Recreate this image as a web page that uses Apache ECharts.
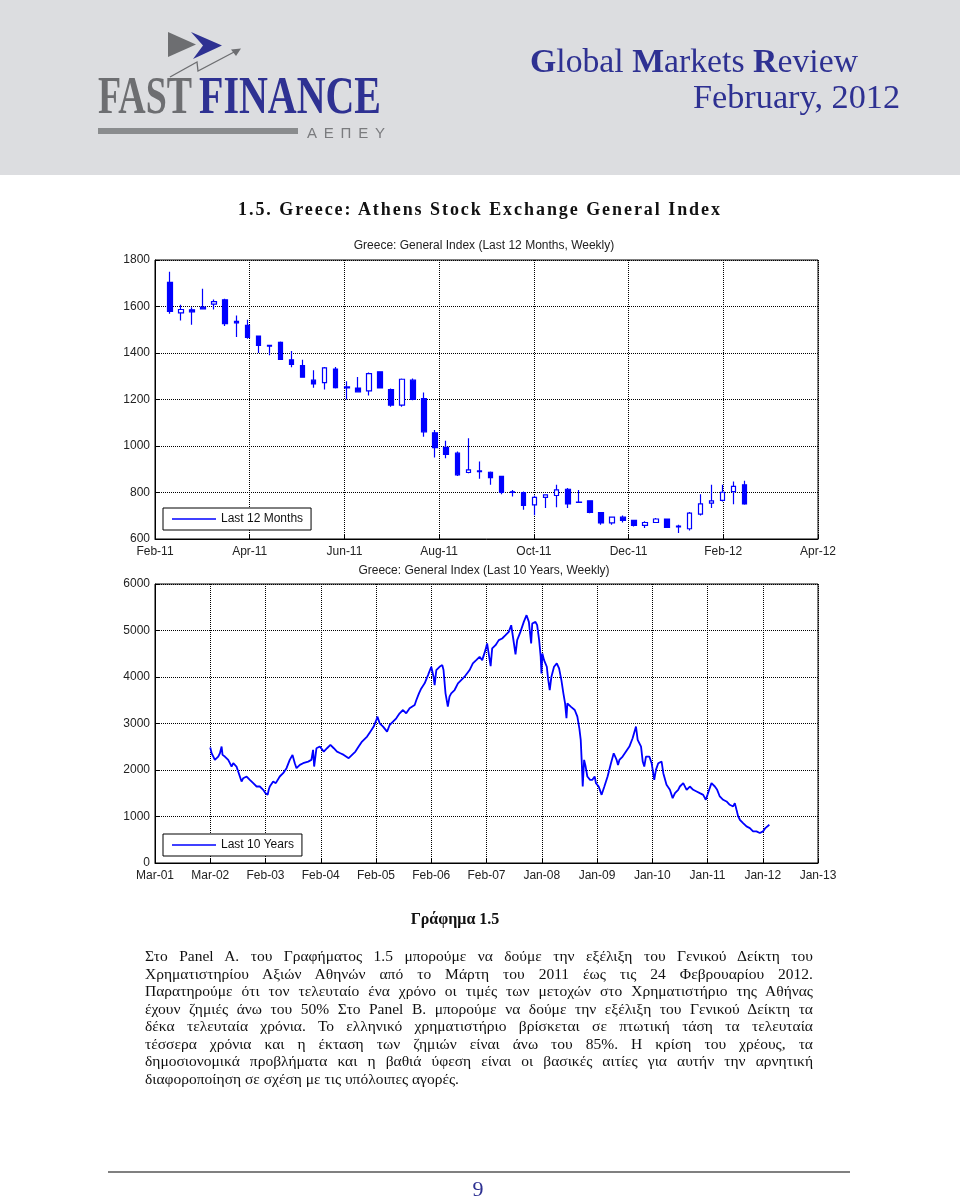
<!DOCTYPE html>
<html>
<head>
<meta charset="utf-8">
<script src="https://cdn.jsdelivr.net/npm/echarts@6/dist/echarts.min.js"></script>
<style>
  html, body { margin:0; padding:0; background:#fff; }
  #page { position:relative; width:960px; height:1199px; overflow:hidden; }
  #chart { position:absolute; left:0; top:0; width:960px; height:1199px; }
  #ov { position:absolute; left:0; top:0; pointer-events:none; }
  .para { position:absolute; left:145px; font-family:"Liberation Serif", serif; font-size:15.5px; color:#111; }
  .ln { position:absolute; left:0; width:668px; white-space:nowrap; text-align:justify; text-align-last:justify; }
  .ln.last { text-align:left; text-align-last:left; }
</style>
</head>
<body>
<div id="page">
  <div id="chart"></div>
  <svg id="ov" width="960" height="1199" xmlns="http://www.w3.org/2000/svg">
    <rect x="0" y="0" width="960" height="175" fill="#dcdde0"/>
    <!-- logo -->
    <polygon points="168,32 196,44.5 168,57" fill="#6d6e71"/>
    <polygon points="191,32 222,45.5 193,59 203,45.5" fill="#2e3192"/>
    <polyline points="170,77 197,62 198,71 236,51" fill="none" stroke="#6d6e71" stroke-width="1.3"/>
    <polygon points="241,48.5 231,49.5 236,56" fill="#6d6e71"/>
    <text x="98" y="113" font-family="Liberation Serif" font-weight="bold" font-size="52" fill="#6d6e71" textLength="94" lengthAdjust="spacingAndGlyphs">FAST</text>
    <text x="199" y="113" font-family="Liberation Serif" font-weight="bold" font-size="52" fill="#2e3192" textLength="182" lengthAdjust="spacingAndGlyphs">FINANCE</text>
    <rect x="98" y="128" width="200" height="6" fill="#8a8c8e"/>
    <text x="307" y="138" font-family="Liberation Sans" font-size="15" fill="#7a7b7e" textLength="78" lengthAdjust="spacing">ΑΕΠΕΥ</text>
    <!-- header right -->
    <text x="530" y="72" font-family="Liberation Serif" font-size="33" fill="#2e3192" textLength="328" lengthAdjust="spacingAndGlyphs"><tspan font-weight="bold">G</tspan>lobal <tspan font-weight="bold">M</tspan>arkets <tspan font-weight="bold">R</tspan>eview</text>
    <text x="693" y="108" font-family="Liberation Serif" font-size="33" fill="#2e3192" textLength="207" lengthAdjust="spacingAndGlyphs">February, 2012</text>
    <!-- section title -->
    <text x="238" y="215" font-family="Liberation Serif" font-weight="bold" font-size="18" fill="#111" textLength="482" lengthAdjust="spacing">1.5. Greece: Athens Stock Exchange General Index</text>
    <text x="484" y="249" text-anchor="middle" font-family="Liberation Sans" font-size="12" fill="#222">Greece: General Index (Last 12 Months, Weekly)</text>
    <text x="484" y="574" text-anchor="middle" font-family="Liberation Sans" font-size="12" fill="#222">Greece: General Index (Last 10 Years, Weekly)</text>
    <!-- figure caption -->
    <text x="455" y="924" text-anchor="middle" font-family="Liberation Serif" font-weight="bold" font-size="16" fill="#111">Γράφημα 1.5</text>
    <!-- footer -->
    <line x1="108" y1="1172" x2="850" y2="1172" stroke="#808080" stroke-width="2"/>
    <text x="478" y="1196" text-anchor="middle" font-family="Liberation Serif" font-size="22" fill="#2e3192">9</text>
  </svg>
  <div class="para" style="top:0">
    <div class="ln" style="top:947px">Στο Panel A. του Γραφήματος 1.5 μπορούμε να δούμε την εξέλιξη του Γενικού Δείκτη του</div>
    <div class="ln" style="top:964.5px">Χρηματιστηρίου Αξιών Αθηνών από το Μάρτη του 2011 έως τις 24 Φεβρουαρίου 2012.</div>
    <div class="ln" style="top:982px">Παρατηρούμε ότι τον τελευταίο ένα χρόνο οι τιμές των μετοχών στο Χρηματιστήριο της Αθήνας</div>
    <div class="ln" style="top:999.5px">έχουν ζημιές άνω του 50% Στο Panel B. μπορούμε να δούμε την εξέλιξη του Γενικού Δείκτη τα</div>
    <div class="ln" style="top:1017px">δέκα τελευταία χρόνια. Το ελληνικό χρηματιστήριο βρίσκεται σε πτωτική τάση τα τελευταία</div>
    <div class="ln" style="top:1034.5px">τέσσερα χρόνια και η έκταση των ζημιών είναι άνω του 85%. Η κρίση του χρέους, τα</div>
    <div class="ln" style="top:1052px">δημοσιονομικά προβλήματα και η βαθιά ύφεση είναι οι βασικές αιτίες για αυτήν την αρνητική</div>
    <div class="ln last" style="top:1069.5px">διαφοροποίηση σε σχέση με τις υπόλοιπες αγορές.</div>
  </div>
</div>
<script>
// ---------- Panel A: last 12 months, weekly candles ----------
const topTickLabels = ['Feb-11','Apr-11','Jun-11','Aug-11','Oct-11','Dec-11','Feb-12','Apr-12'];
const topAxisStart = '2011-02-08T12:00:00Z';
const topTickDays = 60;
const weekDates = [
  '2011-02-18','2011-02-25','2011-03-04','2011-03-11','2011-03-18','2011-03-25','2011-04-01','2011-04-08',
  '2011-04-15','2011-04-22','2011-04-29','2011-05-06','2011-05-13','2011-05-20','2011-05-27','2011-06-03',
  '2011-06-10','2011-06-17','2011-06-24','2011-07-01','2011-07-08','2011-07-15','2011-07-22','2011-07-29',
  '2011-08-05','2011-08-12','2011-08-19','2011-08-26','2011-09-02','2011-09-09','2011-09-16','2011-09-23',
  '2011-09-30','2011-10-07','2011-10-14','2011-10-21','2011-10-28','2011-11-04','2011-11-11','2011-11-18',
  '2011-11-25','2011-12-02','2011-12-09','2011-12-16','2011-12-23','2011-12-30','2012-01-06','2012-01-13',
  '2012-01-20','2012-01-27','2012-02-03','2012-02-10','2012-02-17'
];
const weekOpen  = [1704,1573,1586,1597,1610,1629,1536,1519,1473,1433,1446,1371,1346,1283,1273,1331,1254,1249,1237,1319,1243,1176,1283,1204,1057,994,969,886,893,887,869,803,800,747,779,787,814,759,764,714,669,694,680,659,671,686,655,644,707,754,766,804,833];
const weekClose = [1579,1587,1577,1590,1621,1526,1530,1467,1433,1430,1372,1351,1296,1267,1336,1251,1250,1233,1311,1250,1176,1287,1200,1061,993,964,876,897,890,864,800,800,744,779,790,811,751,757,714,669,694,680,659,671,686,650,652,711,751,764,801,826,751];
const weekLow   = [1569,1540,1521,1590,1587,1516,1469,1461,1400,1390,1370,1339,1296,1251,1243,1247,1200,1230,1217,1247,1169,1169,1197,1040,951,947,871,883,859,833,793,783,726,702,733,737,733,757,711,661,661,671,654,647,669,650,626,637,701,733,761,750,747];
const weekHigh  = [1750,1607,1597,1676,1630,1633,1561,1543,1473,1436,1450,1409,1371,1326,1340,1340,1279,1297,1316,1321,1247,1290,1290,1230,1069,1023,976,1033,933,890,869,811,804,787,790,833,819,811,764,714,697,701,683,676,690,686,661,716,793,833,833,847,851];

// ---------- Panel B: last 10 years ----------
const tenYearTickLabels = ['Mar-01','Mar-02','Feb-03','Feb-04','Feb-05','Feb-06','Feb-07','Jan-08','Jan-09','Jan-10','Jan-11','Jan-12','Jan-13'];
const tenYearAxisStart = '2001-03-07T00:00:00Z';
const tenYearTickDays = 360;
const tenYearDates = [
  '2002-03-02','2002-03-11','2002-03-22','2002-04-01','2002-04-12','2002-04-23','2002-05-04','2002-05-15','2002-05-21','2002-06-05',
  '2002-06-16','2002-06-27','2002-07-08','2002-07-19','2002-07-30','2002-08-10','2002-08-20','2002-08-31','2002-09-11','2002-09-22',
  '2002-10-03','2002-10-14','2002-10-25','2002-11-04','2002-11-15','2002-11-26','2002-12-07','2002-12-18','2002-12-29','2003-01-19',
  '2003-02-10','2003-02-25','2003-03-11','2003-03-18','2003-03-25','2003-04-16','2003-05-03','2003-05-29','2003-06-20','2003-07-12',
  '2003-08-02','2003-08-20','2003-09-04','2003-09-15','2003-10-07','2003-10-28','2003-11-30','2003-12-21','2004-01-01','2004-01-08',
  '2004-01-23','2004-02-14','2004-03-11','2004-04-01','2004-04-23','2004-05-15','2004-06-05','2004-06-27','2004-07-19','2004-08-20',
  '2004-09-11','2004-10-03','2004-10-24','2004-11-15','2004-12-18','2005-01-08','2005-01-30','2005-02-16','2005-02-23','2005-03-10',
  '2005-04-01','2005-04-27','2005-05-14','2005-06-05','2005-06-26','2005-07-18','2005-08-09','2005-08-30','2005-09-21','2005-10-24',
  '2005-11-04','2005-11-21','2005-12-06','2005-12-28','2006-01-19','2006-02-09','2006-02-13','2006-02-24','2006-03-03','2006-03-14',
  '2006-04-04','2006-04-22','2006-04-30','2006-05-13','2006-05-28','2006-06-02','2006-06-08','2006-06-19','2006-07-11','2006-08-02',
  '2006-08-23','2006-09-14','2006-10-17','2006-11-07','2006-11-29','2006-12-21','2007-01-07','2007-01-28','2007-02-08','2007-02-19',
  '2007-03-03','2007-03-13','2007-04-04','2007-04-25','2007-05-17','2007-06-08','2007-06-29','2007-07-15','2007-07-28','2007-08-12',
  '2007-08-23','2007-09-13','2007-10-05','2007-10-23','2007-11-07','2007-11-22','2007-11-29','2007-12-20','2007-12-31','2008-01-13',
  '2008-01-23','2008-01-28','2008-02-03','2008-02-14','2008-03-03','2008-03-11','2008-03-22','2008-04-02','2008-04-19','2008-05-07',
  '2008-05-22','2008-06-06','2008-06-19','2008-06-30','2008-07-09','2008-07-15','2008-08-06','2008-09-01','2008-09-18','2008-10-01',
  '2008-10-10','2008-10-16','2008-10-23','2008-11-01','2008-11-11','2008-11-22','2008-12-10','2008-12-25','2009-01-09','2009-01-17',
  '2009-02-04','2009-02-23','2009-03-13','2009-04-03','2009-04-25','2009-05-13','2009-05-23','2009-06-01','2009-06-10','2009-06-19',
  '2009-07-10','2009-08-01','2009-08-23','2009-09-13','2009-10-05','2009-10-16','2009-11-07','2009-11-18','2009-11-28','2009-12-09',
  '2009-12-31','2010-01-15','2010-02-01','2010-02-12','2010-02-27','2010-03-21','2010-04-01','2010-04-22','2010-05-14','2010-06-01',
  '2010-06-16','2010-07-07','2010-07-18','2010-08-09','2010-08-31','2010-09-21','2010-10-13','2010-11-04','2010-11-25','2010-12-17',
  '2011-01-03','2011-01-25','2011-02-09','2011-03-03','2011-03-18','2011-04-04','2011-04-26','2011-05-18','2011-06-08','2011-06-30',
  '2011-07-11','2011-07-22','2011-08-02','2011-08-13','2011-09-03','2011-09-25','2011-10-17','2011-11-07','2011-11-29','2011-12-21',
  '2012-01-11','2012-01-26','2012-02-06','2012-02-21'
];
const tenYearValues = [
  2482,2360,2289,2217,2253,2289,2360,2504,2325,2289,
  2253,2217,2146,2074,2146,2181,2074,1967,1860,1753,
  1824,1788,1860,1824,1788,1753,1717,1681,1645,1645,
  1574,1502,1466,1574,1645,1753,1717,1860,1931,2039,
  2217,2325,2146,2039,2110,2146,2181,2217,2432,2074,
  2468,2504,2396,2468,2539,2468,2396,2360,2325,2253,
  2325,2396,2504,2611,2718,2825,2933,3076,3147,3004,
  2933,2825,2968,3040,3112,3219,3290,3219,3326,3398,
  3505,3648,3755,3863,4041,4220,4256,4006,3827,4149,
  4220,4256,4149,3648,3362,3362,3577,3648,3720,3863,
  3934,4006,4149,4292,4363,4435,4363,4578,4721,4685,
  4235,4614,4685,4793,4828,4900,4971,5114,4828,4485,
  4793,4971,5186,5329,5186,4721,5150,5186,5114,4793,
  4435,4077,4506,4363,4220,3970,3720,4006,4220,4292,
  4184,3934,3648,3433,3112,3433,3362,3290,3147,2897,
  2647,2217,1645,2217,2074,1860,1788,1788,1860,1717,
  1645,1466,1645,1860,2146,2360,2396,2217,2110,2217,
  2289,2396,2504,2682,2933,2647,2504,2181,2074,2289,
  2289,2146,1788,2003,2146,2181,1931,1681,1574,1395,
  1502,1574,1645,1717,1574,1645,1574,1538,1502,1466,
  1359,1574,1717,1645,1574,1431,1359,1323,1252,1216,
  1288,1144,1001,930,858,787,751,680,680,644,
  680,751,787,823
];

function dayOffset(d, start) {
  return (Date.parse(d + 'T00:00:00Z') - Date.parse(start)) / 86400000;
}

const BLUE = '#0000ff';
const FONT = 'Liberation Sans';

const candleData = weekDates.map((d, i) => [dayOffset(d, topAxisStart), weekOpen[i], weekClose[i], weekLow[i], weekHigh[i]]);
const lineData = tenYearDates.map((d, i) => [dayOffset(d, tenYearAxisStart), tenYearValues[i]]);

function xAxisCfg(gridIndex, max, interval, labels) {
  return {
    gridIndex, type:'value', min:0, max, interval,
    axisLine:{ show:true, onZero:false, lineStyle:{ color:'#000', width:1 } },
    axisTick:{ show:true, inside:true, length:4, lineStyle:{ color:'#000' } },
    axisLabel:{ color:'#222', fontSize:12, fontFamily:FONT, margin:7, showMinLabel:true, showMaxLabel:true,
      hideOverlap:false,
      formatter: v => labels[Math.round(v / interval)] || '' },
    splitLine:{ show:true, lineStyle:{ type:'dotted', color:'#000', width:1 } }
  };
}
function yAxisCfg(gridIndex, min, max, interval) {
  return {
    gridIndex, type:'value', min, max, interval,
    axisLine:{ show:true, lineStyle:{ color:'#000', width:1 } },
    axisTick:{ show:true, inside:true, length:4, lineStyle:{ color:'#000' } },
    axisLabel:{ color:'#222', fontSize:12, fontFamily:FONT, margin:5, showMinLabel:true, showMaxLabel:true,
      formatter: v => String(Math.round(v)) },
    splitLine:{ show:true, lineStyle:{ type:'dotted', color:'#000', width:1 } }
  };
}
function legendCfg(name, top) {
  return {
    data:[{ name, icon:'rect', itemStyle:{ color:BLUE, borderWidth:0 } }],
    left:163, top, orient:'horizontal', itemWidth:44, itemHeight:1.5,
    padding:[5, 8, 5, 9], borderColor:'#000', borderWidth:1, borderRadius:0,
    backgroundColor:'#fff', selectedMode:false,
    textStyle:{ fontSize:12, color:'#111', fontFamily:FONT }
  };
}

const chart = echarts.init(document.getElementById('chart'), null, { renderer:'canvas', width:960, height:1199 });
chart.setOption({
  animation:false,
  backgroundColor:'#fff',
  textStyle:{ fontFamily:FONT },
  grid:[
    { left:155, top:260, width:663, height:279, show:true, borderColor:'#000', borderWidth:1, backgroundColor:'transparent' },
    { left:155, top:584, width:663, height:279, show:true, borderColor:'#000', borderWidth:1, backgroundColor:'transparent' }
  ],
  xAxis:[
    xAxisCfg(0, topTickDays * (topTickLabels.length - 1), topTickDays, topTickLabels),
    xAxisCfg(1, tenYearTickDays * (tenYearTickLabels.length - 1), tenYearTickDays, tenYearTickLabels)
  ],
  yAxis:[ yAxisCfg(0, 600, 1800, 200), yAxisCfg(1, 0, 6000, 1000) ],
  legend:[ legendCfg('Last 12 Months', 508), legendCfg('Last 10 Years', 834) ],
  series:[
    {
      type:'candlestick', name:'Last 12 Months', xAxisIndex:0, yAxisIndex:0,
      encode:{ x:0, y:[1,2,3,4] },
      data:candleData, barWidth:5,
      itemStyle:{ color:'#ffffff', color0:BLUE, borderColor:BLUE, borderColor0:BLUE, borderColorDoji:BLUE, borderWidth:1.2 }
    },
    {
      type:'line', name:'Last 10 Years', xAxisIndex:1, yAxisIndex:1,
      data:lineData, symbol:'none', showSymbol:false,
      lineStyle:{ color:BLUE, width:1.8 }, itemStyle:{ color:BLUE }
    }
  ]
});
</script>
</body>
</html>
